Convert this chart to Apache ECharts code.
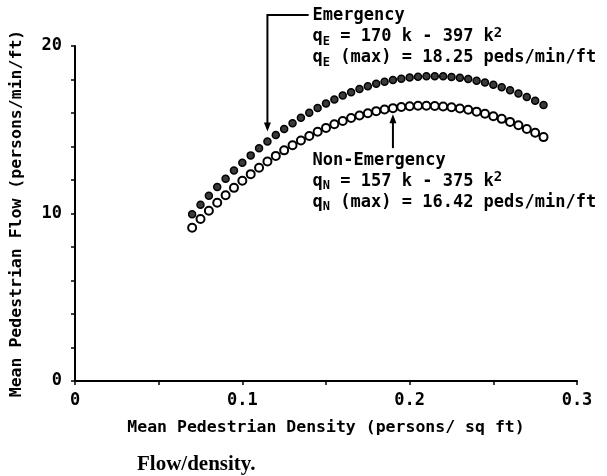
<!DOCTYPE html>
<html>
<head>
<meta charset="utf-8">
<script src="https://cdn.jsdelivr.net/npm/echarts@6/dist/echarts.min.js"></script>
<style>
html,body{margin:0;padding:0;background:#fff;}
#chart{width:607px;height:476px;}
</style>
</head>
<body>
<div id="chart"></div>
<script>
// ---- data ----
const density = [0.070,0.075,0.080,0.085,0.090,0.095,0.100,0.105,0.110,0.115,0.120,0.125,0.130,0.135,0.140,0.145,0.150,0.155,0.160,0.165,0.170,0.175,0.180,0.185,0.190,0.195,0.200,0.205,0.210,0.215,0.220,0.225,0.230,0.235,0.240,0.245,0.250,0.255,0.260,0.265,0.270,0.275,0.280];
const flowEmergency = [9.95,10.52,11.06,11.58,12.08,12.57,13.03,13.47,13.90,14.30,14.68,15.05,15.39,15.71,16.02,16.30,16.57,16.81,17.04,17.24,17.43,17.59,17.74,17.86,17.97,18.05,18.12,18.17,18.19,18.20,18.19,18.15,18.10,18.03,17.93,17.82,17.69,17.54,17.36,17.17,16.96,16.73,16.48];
const flowNonEmergency = [9.15,9.67,10.16,10.64,11.09,11.53,11.95,12.35,12.73,13.10,13.44,13.77,14.07,14.36,14.63,14.88,15.11,15.33,15.52,15.70,15.85,15.99,16.11,16.21,16.29,16.36,16.40,16.43,16.43,16.42,16.39,16.34,16.27,16.19,16.08,15.96,15.81,15.65,15.47,15.27,15.05,14.82,14.56];
const xTickLabels = ['0','0.1','0.2','0.3'];
const yTickLabels = ['0','10','20'];
const xTitle = 'Mean Pedestrian Density (persons/ sq ft)';
const yTitle = 'Mean Pedestrian Flow (persons/min/ft)';
const caption = 'Flow/density.';
const emergencyText = ['Emergency', ['E','170','397'], ['E','18.25']];
const nonEmergencyText = ['Non-Emergency', ['N','157','375'], ['N','16.42']];
const emergencyArrowIndex = 9;     // point the Emergency arrow refers to
const nonEmergencyArrowIndex = 24; // point the Non-Emergency arrow refers to

const FONT = '"DejaVu Sans Mono"';
const chart = echarts.init(document.getElementById('chart'), null, {renderer:'canvas'});

const eData = density.map((k,i)=>[k, flowEmergency[i]]);
const nData = density.map((k,i)=>[k, flowNonEmergency[i]]);

const axisCommon = {
  axisLine:{show:true, lineStyle:{color:'#000', width:2}},
  axisTick:{show:true, length:4, lineStyle:{color:'#000', width:1.5}},
  minorTick:{show:true, length:4, lineStyle:{color:'#000', width:1.5}},
  splitLine:{show:false},
  axisLabel:{color:'#000', fontFamily:'DejaVu Sans Mono', fontWeight:'bold', fontSize:17}
};

chart.setOption({
  animation:false,
  backgroundColor:'#fff',
  grid:{left:75, right:30, top:46, bottom:95, containLabel:false},
  xAxis:Object.assign({}, axisCommon, {
    type:'value', min:0, max:0.3, interval:0.1,
    minorTick:Object.assign({}, axisCommon.minorTick, {splitNumber:2}),
    axisLabel:Object.assign({}, axisCommon.axisLabel, {margin:11,
      formatter:(v)=>{const i=Math.round(v*10); return xTickLabels[i]!==undefined?xTickLabels[i]:'';}}),
    name:xTitle, nameLocation:'middle', nameGap:38,
    nameTextStyle:{color:'#000', fontFamily:'DejaVu Sans Mono', fontWeight:'bold', fontSize:16.5}
  }),
  yAxis:Object.assign({}, axisCommon, {
    type:'value', min:0, max:20, interval:10,
    minorTick:Object.assign({}, axisCommon.minorTick, {splitNumber:5}),
    axisLabel:Object.assign({}, axisCommon.axisLabel, {margin:13,
      formatter:(v)=>{const i=Math.round(v/10); return yTickLabels[i]!==undefined?yTickLabels[i]:'';}}),
    name:yTitle, nameLocation:'middle', nameGap:50,
    nameTextStyle:{color:'#000', fontFamily:'DejaVu Sans Mono', fontWeight:'bold', fontSize:16.5}
  }),
  series:[
    {name:'Emergency', type:'scatter', data:eData, symbol:'circle', symbolSize:7,
     itemStyle:{color:'#3a3a3a', borderColor:'#000', borderWidth:1.5, opacity:1}},
    {name:'Non-Emergency', type:'scatter', data:nData, symbol:'circle', symbolSize:8,
     itemStyle:{color:'#fff', borderColor:'#000', borderWidth:2, opacity:1}}
  ]
});

function px(k,q){ return chart.convertToPixel({gridIndex:0}, [k,q]); }

const rich = {
  t:{fontFamily:'DejaVu Sans Mono', fontWeight:'bold', fontSize:17, color:'#000', lineHeight:22, verticalAlign:'middle'},
  sub:{fontFamily:'DejaVu Sans Mono', fontWeight:'bold', fontSize:12, color:'#000', verticalAlign:'bottom', lineHeight:14},
  sup:{fontFamily:'DejaVu Sans Mono', fontWeight:'bold', fontSize:14, color:'#000', verticalAlign:'top', lineHeight:15}
};
function eqLine(p){ return '{t|q}{sub|'+p[0]+'}{t| = '+p[1]+' k - '+p[2]+' k}{sup|2}'; }
function maxLine(p){ return '{t|q}{sub|'+p[0]+'}{t| (max) = '+p[1]+' peds/min/ft}'; }

function textBlock(x, y, lines){
  return lines.map((s,i)=>({type:'text', x:x, y:y+i*21,
    style:{text:s, rich:rich, font:'bold 17px "DejaVu Sans Mono"', fill:'#000', verticalAlign:'middle', align:'left'}}));
}

const pE = px(density[emergencyArrowIndex], flowEmergency[emergencyArrowIndex]);
const pN = px(density[nonEmergencyArrowIndex], flowNonEmergency[nonEmergencyArrowIndex]);
const topE = px(0, 21.85)[1];
const textX = px(0.142, 0)[0];

const arrowHead = (x, y, dir) => ({type:'polygon', shape:{points:[[x,y],[x-3.5,y-9*dir],[x+3.5,y-9*dir]]}, style:{fill:'#000'}});

const graphics = [
  {type:'polyline', shape:{points:[[textX-4, topE],[pE[0], topE],[pE[0], pE[1]-16]]}, style:{stroke:'#000', lineWidth:2, fill:null}},
  arrowHead(pE[0], pE[1]-10, 1),
  {type:'line', shape:{x1:pN[0], y1:pN[1]+10, x2:pN[0], y2:pN[1]+40}, style:{stroke:'#000', lineWidth:2}},
  arrowHead(pN[0], pN[1]+6, -1),
  ...textBlock(textX, topE+1, ['{t|'+emergencyText[0]+'}', eqLine(emergencyText[1]), maxLine(emergencyText[2])]),
  ...textBlock(textX, pN[1]+52, ['{t|'+nonEmergencyText[0]+'}', eqLine(nonEmergencyText[1]), maxLine(nonEmergencyText[2])]),
  {type:'text', x:137, y:465, style:{text:caption, font:'bold 21px "Liberation Serif"', fill:'#000', verticalAlign:'middle', align:'left'}}
];
chart.setOption({graphic:graphics});
</script>
</body>
</html>
